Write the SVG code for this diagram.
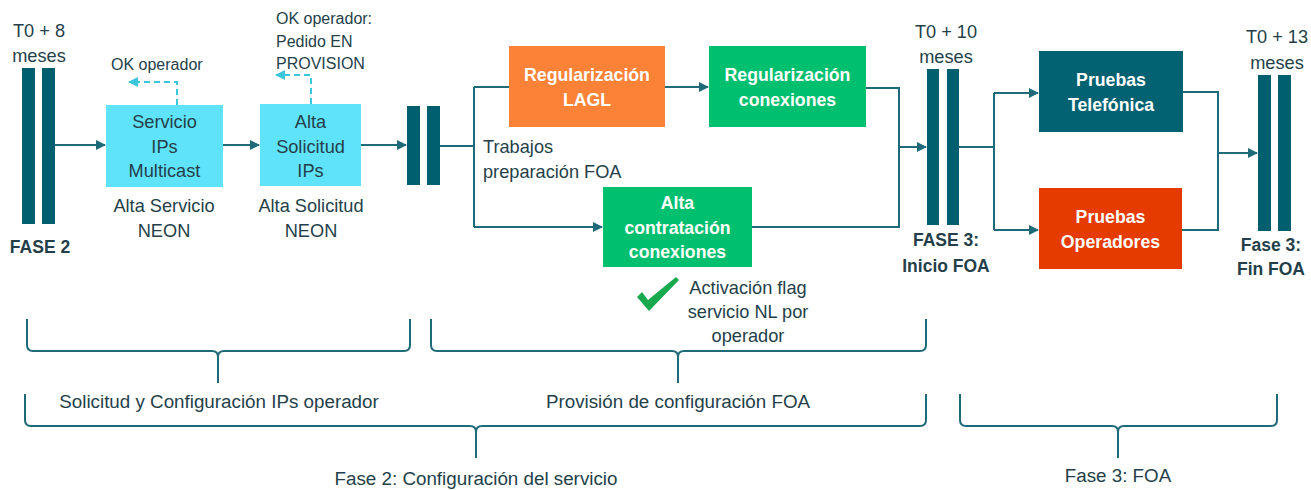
<svg xmlns="http://www.w3.org/2000/svg" width="1311" height="490" viewBox="0 0 1311 490">
<defs>
<style>
text{font-family:"Liberation Sans",Arial,sans-serif;font-size:18.2px;fill:#243f4a}
.c{text-anchor:middle}
.b{font-weight:bold;font-size:17.5px}
.w{fill:#ffffff;font-weight:bold;font-size:17.7px;text-anchor:middle}
.s{font-size:16px}
.lg{font-size:18.8px}
.bar{fill:#005f6e}
.ln{fill:none;stroke:#1f6a78;stroke-width:2}
.dash{fill:none;stroke:#3cc6dc;stroke-width:2;stroke-dasharray:6 4}
.br{fill:none;stroke:#1f6a78;stroke-width:2}
</style>
<marker id="ar" viewBox="0 0 10 10" refX="9" refY="5" markerWidth="10" markerHeight="10" markerUnits="userSpaceOnUse" orient="auto">
<path d="M0,0 L10,5 L0,10 z" fill="#1f6a78"/>
</marker>
<marker id="ard" viewBox="0 0 10 10" refX="9" refY="5" markerWidth="10" markerHeight="10" markerUnits="userSpaceOnUse" orient="auto">
<path d="M0,0 L10,5 L0,10 z" fill="#3cc6dc"/>
</marker>
</defs>
<rect width="1311" height="490" fill="#ffffff"/>

<g id="connectors">
<path class="ln" d="M55,145 L105,145" marker-end="url(#ar)"/>
<path class="ln" d="M223,145 L259,145" marker-end="url(#ar)"/>
<path class="ln" d="M361,145 L406,145" marker-end="url(#ar)"/>
<path class="ln" d="M440,146 L474,146 M474,87 L474,227 M474,87 L509,87"/>
<path class="ln" d="M474,227 L602,227" marker-end="url(#ar)"/>
<path class="ln" d="M665,87 L708,87" marker-end="url(#ar)"/>
<path class="ln" d="M866,88 L899,88 L899,227 L752,227"/>
<path class="ln" d="M899,147 L926,147" marker-end="url(#ar)"/>
<path class="ln" d="M959,147 L994,147 M994,93 L994,230"/>
<path class="ln" d="M994,93 L1038,93" marker-end="url(#ar)"/>
<path class="ln" d="M994,230 L1038,230" marker-end="url(#ar)"/>
<path class="ln" d="M1183,92 L1218,92 L1218,230 L1182,230"/>
<path class="ln" d="M1218,153 L1257,153" marker-end="url(#ar)"/>
<path class="dash" d="M177,105 L177,82 L129,82" marker-end="url(#ard)"/>
<path class="dash" d="M311,104 L311,75 L276,75" marker-end="url(#ard)"/>
</g>

<g id="milestone-t0-8">
<rect class="bar" x="22" y="68" width="13" height="156"/>
<rect class="bar" x="42" y="68" width="13" height="156"/>
<text class="c" x="39" y="37">T0 + 8</text>
<text class="c" x="39" y="62">meses</text>
<text class="c b" x="40" y="253">FASE 2</text>
</g>

<g id="servicio-ips">
<rect x="106" y="105" width="117" height="82" fill="#5fe3fa"/>
<text class="c" x="164.5" y="128">Servicio</text>
<text class="c" x="164.5" y="153">IPs</text>
<text class="c" x="164.5" y="177">Multicast</text>
<text class="c" x="164" y="212">Alta Servicio</text>
<text class="c" x="164" y="237">NEON</text>
<text class="s" x="111" y="70">OK operador</text>
</g>

<g id="alta-solicitud">
<rect x="260" y="104" width="101" height="82" fill="#5fe3fa"/>
<text class="c" x="310.5" y="128">Alta</text>
<text class="c" x="310.5" y="153">Solicitud</text>
<text class="c" x="310.5" y="177">IPs</text>
<text class="c" x="311" y="212">Alta Solicitud</text>
<text class="c" x="311" y="237">NEON</text>
<text class="s" x="276" y="24">OK operador:</text>
<text class="s" x="276" y="47">Pedido EN</text>
<text class="s" x="276" y="69">PROVISION</text>
</g>

<g id="milestone-mid">
<rect class="bar" x="407" y="106" width="13" height="79"/>
<rect class="bar" x="427" y="106" width="13" height="79"/>
<text x="483" y="153">Trabajos</text>
<text x="483" y="178">preparación FOA</text>
</g>

<g id="reg-lagl">
<rect x="509" y="46" width="156" height="81" fill="#fb8237"/>
<text class="w" x="587" y="81">Regularización</text>
<text class="w" x="587" y="106">LAGL</text>
</g>

<g id="reg-conexiones">
<rect x="709" y="46" width="157" height="81" fill="#00bf6f"/>
<text class="w" x="787.5" y="81">Regularización</text>
<text class="w" x="787.5" y="106">conexiones</text>
</g>

<g id="alta-contratacion">
<rect x="603" y="187" width="149" height="80" fill="#00bf6f"/>
<text class="w" x="677.5" y="209">Alta</text>
<text class="w" x="677.5" y="234">contratación</text>
<text class="w" x="677.5" y="258">conexiones</text>
</g>

<g id="activacion-flag">
<polygon points="637,297 642,292 648,300 676,277 679,280 649,311" fill="#18a84d"/>
<text class="c" x="748" y="294">Activación flag</text>
<text class="c" x="748" y="318">servicio NL por</text>
<text class="c" x="748" y="342">operador</text>
</g>

<g id="milestone-t0-10">
<rect class="bar" x="927" y="69" width="12" height="156"/>
<rect class="bar" x="947" y="69" width="12" height="156"/>
<text class="c" x="946" y="38">T0 + 10</text>
<text class="c" x="946" y="63">meses</text>
<text class="c b" x="946" y="246">FASE 3:</text>
<text class="c b" x="946" y="272">Inicio FOA</text>
</g>

<g id="pruebas-telefonica">
<rect x="1039" y="51" width="144" height="81" fill="#026272"/>
<text class="w" x="1111" y="86">Pruebas</text>
<text class="w" x="1111" y="111">Telefónica</text>
</g>

<g id="pruebas-operadores">
<rect x="1039" y="188" width="143" height="81" fill="#e53a00"/>
<text class="w" x="1110.5" y="223">Pruebas</text>
<text class="w" x="1110.5" y="248">Operadores</text>
</g>

<g id="milestone-t0-13">
<rect class="bar" x="1258" y="75" width="13" height="156"/>
<rect class="bar" x="1278" y="75" width="13" height="156"/>
<text class="c" x="1277" y="43">T0 + 13</text>
<text class="c" x="1277" y="69">meses</text>
<text class="c b" x="1271" y="251">Fase 3:</text>
<text class="c b" x="1271" y="275">Fin FOA</text>
</g>

<g id="brace-solicitud">
<path class="br" d="M27,319 L27,345 Q27,351 33,351 L212,351 Q218,351 218,357 L218,383 M218,357 Q218,351 224,351 L404,351 Q410,351 410,345 L410,319"/>
<text class="c lg" x="219" y="408">Solicitud y Configuración IPs operador</text>
</g>

<g id="brace-provision">
<path class="br" d="M431,319 L431,345 Q431,351 437,351 L672,351 Q678,351 678,357 L678,383 M678,357 Q678,351 684,351 L920,351 Q926,351 926,345 L926,319"/>
<text class="c lg" x="678" y="408">Provisión de configuración FOA</text>
</g>

<g id="brace-fase2">
<path class="br" d="M25,394 L25,420 Q25,426 31,426 L470,426 Q476,426 476,432 L476,458 M476,432 Q476,426 482,426 L920,426 Q926,426 926,420 L926,394"/>
<text class="c lg" x="476" y="485">Fase 2: Configuración del servicio</text>
</g>

<g id="brace-fase3">
<path class="br" d="M960,394 L960,420 Q960,426 966,426 L1112,426 Q1118,426 1118,432 L1118,458 M1118,432 Q1118,426 1124,426 L1271,426 Q1277,426 1277,420 L1277,394"/>
<text class="c lg" x="1118" y="482">Fase 3: FOA</text>
</g>
</svg>
